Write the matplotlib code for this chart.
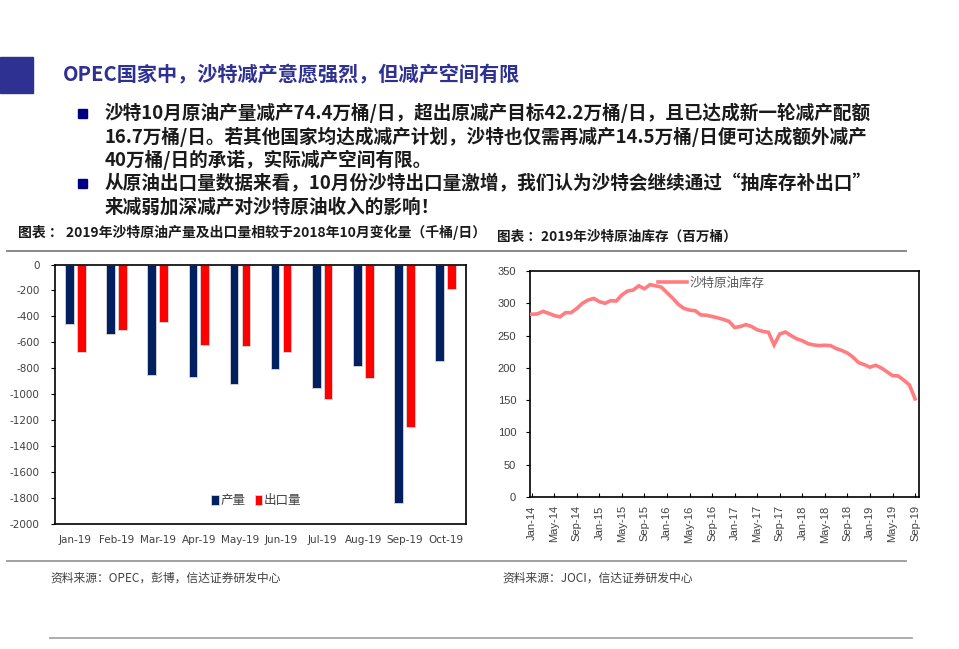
import matplotlib

matplotlib.use('Agg')
import matplotlib.pyplot as plt
from matplotlib.patches import Rectangle
from matplotlib.lines import Line2D
import numpy as np

plt.rcParams['font.family'] = ['Noto Sans CJK SC', 'DejaVu Sans']
plt.rcParams['axes.unicode_minus'] = False

TITLE = "OPEC国家中，沙特减产意愿强烈，但减产空间有限"
BULLETS = [
    ["沙特10月原油产量减产74.4万桶/日，超出原减产目标42.2万桶/日，且已达成新一轮减产配额",
     "16.7万桶/日。若其他国家均达成减产计划，沙特也仅需再减产14.5万桶/日便可达成额外减产",
     "40万桶/日的承诺，实际减产空间有限。"],
    ["从原油出口量数据来看，10月份沙特出口量激增，我们认为沙特会继续通过“抽库存补出口”",
     "来减弱加深减产对沙特原油收入的影响！"],
]
CAPTION_L = "图表 ： 2019年沙特原油产量及出口量相较于2018年10月变化量（千桶/日）"
CAPTION_R = "图表 ：2019年沙特原油库存（百万桶）"
SOURCE_L = "资料来源：OPEC，彭博，信达证券研发中心"
SOURCE_R = "资料来源：JOCI，信达证券研发中心"

# 左图：相较于2018年10月变化量（千桶/日）
months_19 = ["Jan-19", "Feb-19", "Mar-19", "Apr-19", "May-19",
             "Jun-19", "Jul-19", "Aug-19", "Sep-19", "Oct-19"]
production = [-455, -535, -850, -870, -920, -805, -950, -785, -1840, -745]
exports = [-675, -505, -445, -620, -630, -675, -1035, -875, -1255, -190]

# 右图：沙特原油库存（百万桶），2014-01 ~ 2019-09 月度
stock = [283, 283.5, 287.5, 284.5, 281, 279, 285.5, 285.5, 292, 300,
         305, 307.5, 302.5, 300, 304, 303.5, 313, 319, 320.5, 327,
         322.5, 329, 327, 325, 316.5, 308, 298.5, 292, 289.5, 288.5,
         282, 281.5, 279.5, 277.5, 275, 272, 262.5, 264, 267, 264,
         259, 256.5, 255, 235.5, 252.5, 255.5, 250, 245, 242, 237.5,
         235.5, 234.5, 235, 234.5, 230, 227, 223, 216.5, 208, 205,
         201, 204, 200, 194, 188, 187.5, 181, 173.5, 152]
stock_ticks = ["Jan-14", "May-14", "Sep-14", "Jan-15", "May-15", "Sep-15",
               "Jan-16", "May-16", "Sep-16", "Jan-17", "May-17", "Sep-17",
               "Jan-18", "May-18", "Sep-18", "Jan-19", "May-19", "Sep-19"]

W, H = 959, 649
fig = plt.figure(figsize=(W / 100, H / 100), dpi=100)


def fx(px):
    return px / W


def fy(py):
    return 1 - py / H


# 标题区
fig.patches.append(Rectangle((0, fy(93)), fx(33), 36 / H, transform=fig.transFigure,
                             color='#2E3192', zorder=1))
fig.text(fx(63), fy(75), TITLE, fontsize=14.5, fontweight='bold', color='#2E3192',
         va='center', ha='left')

y = 113
for para in BULLETS:
    fig.patches.append(Rectangle((fx(78), fy(y + 4.5)), fx(8.5), 9 / H,
                                 transform=fig.transFigure, color='#000080'))
    for line in para:
        fig.text(fx(105), fy(y), line, fontsize=13.4, fontweight='bold',
                 color='#1A1A1A', va='center', ha='left')
        y += 23.5

fig.text(fx(18), fy(232), CAPTION_L, fontsize=10, fontweight='bold', color='#1A1A1A',
         va='center', ha='left')
fig.text(fx(497), fy(237), CAPTION_R, fontsize=9.8, fontweight='bold', color='#1A1A1A',
         va='center', ha='left')

for (x0, x1, yy, c) in [(7, 906, 250.5, '#7F7F7F'), (7, 906, 561, '#9A9A9A'),
                        (50, 912, 638, '#A6A6A6')]:
    fig.lines.append(Line2D([fx(x0), fx(x1)], [fy(yy), fy(yy)], transform=fig.transFigure,
                            color=c, linewidth=1.3))

fig.text(fx(50), fy(578), SOURCE_L, fontsize=8.5, style='italic', color='#404040',
         va='center', ha='left')
fig.text(fx(502), fy(578), SOURCE_R, fontsize=8.5, style='italic', color='#404040',
         va='center', ha='left')

# -----------------------------
# 左图：柱状图
# -----------------------------
narrow = ['Liberation Sans Narrow', 'DejaVu Sans']
ax1 = fig.add_axes([fx(55), fy(524), fx(466 - 55), (524 - 264.5) / H])
x = np.arange(len(months_19))
bw = 0.21
ax1.bar(x - 0.145, production, width=bw, color='#002060', edgecolor='#D9D9D9',
        linewidth=0.6, label='产量', zorder=2)
ax1.bar(x + 0.145, exports, width=bw, color='#FF0000', edgecolor='#D9D9D9',
        linewidth=0.6, label='出口量', zorder=2)
ax1.set_xlim(-0.5, len(months_19) - 0.5)
ax1.set_ylim(-2000, 0)
ax1.set_yticks(np.arange(-2000, 1, 200))
ax1.set_xticks(x)
ax1.set_xticklabels(months_19)
for lab in ax1.get_xticklabels() + ax1.get_yticklabels():
    lab.set_fontfamily(narrow)
    lab.set_fontsize(7.5)
    lab.set_color('#404040')
ax1.tick_params(axis='x', length=0, pad=8)
ax1.tick_params(axis='y', length=3, width=0.8, direction='out', pad=8)
for s in ax1.spines.values():
    s.set_color('black')
    s.set_linewidth(1.2)
ax1.legend(loc='center', bbox_to_anchor=(0.49, 0.09), ncol=2, frameon=False,
           handlelength=0.6, handleheight=0.9, handletextpad=0.15, columnspacing=0.7,
           prop={'size': 9}, labelcolor='#404040')

# -----------------------------
# 右图：折线图
# -----------------------------
ax2 = fig.add_axes([fx(530), fy(497), fx(919 - 530), (497 - 271) / H])
t = np.arange(len(stock))
ax2.plot(t, stock, color='#FF7C80', linewidth=2.6, label='沙特原油库存',
         solid_joinstyle='miter', zorder=3)
ax2.set_xlim(-0.3, len(stock) - 0.3)
ax2.set_ylim(0, 350)
ax2.set_yticks(np.arange(0, 351, 50))
ax2.set_xticks(np.arange(0, len(stock), 4))
ax2.set_xticklabels(stock_ticks, rotation=90)
for lab in ax2.get_xticklabels() + ax2.get_yticklabels():
    lab.set_fontfamily(['Liberation Sans', 'DejaVu Sans'])
    lab.set_fontsize(8)
    lab.set_color('#404040')
ax2.tick_params(axis='x', direction='in', length=3, width=0.8, pad=6)
ax2.tick_params(axis='y', direction='out', length=3, width=0.8, pad=7)
for s in ax2.spines.values():
    s.set_color('black')
    s.set_linewidth(1.2)
ax2.legend(loc='upper left', bbox_to_anchor=(0.3, 1.025), frameon=False,
           handlelength=2.3, handletextpad=0.2, prop={'size': 9}, labelcolor='#595959')

fig.savefig('out.png', dpi=100, facecolor='white')
